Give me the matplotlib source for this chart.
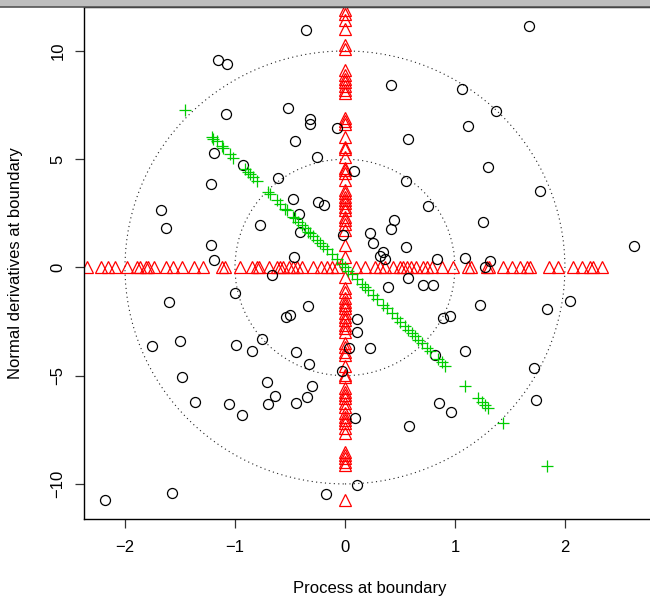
import matplotlib
matplotlib.use("Agg")
import numpy as np
import matplotlib.pyplot as plt
from matplotlib.patches import Ellipse, Rectangle
from matplotlib.lines import Line2D

plt.rcParams['font.family'] = ['Liberation Sans', 'DejaVu Sans']

# black circles: process / normal derivative pairs
circ_x = [-0.355, -1.155, -1.07, -0.515, -1.085, -0.315, -0.315, -0.075, -0.452, -1.188,
          -0.252, -0.93, 0.085, -0.606, -1.215, -0.47, -0.248, -0.194, -1.675, -0.421,
          -1.63, -0.77, -0.406, -0.021, -1.221, -1.194, -0.466, -0.661,
          1.673, 0.418, 1.066, 1.376, 1.118, 0.576, 1.297, 0.558, 1.773, 0.757,
          0.445, 0.418, 1.258, 0.224, 0.258, 0.555, 0.342, 0.318, 0.364, 0.839,
          1.091, 1.315, 1.276, 2.627, 0.576,
          -1.003, -1.603, -0.339, -0.536, -0.503, 0.109, 0.109, -1.752, -1.503, -0.991,
          -0.758, -0.848, -0.448, 0.033, -0.324, -1.479, -0.03, -0.712, -0.297, -0.634,
          -0.345, -1.361, -1.052, -0.70, -0.448, -0.934, 0.088, 0.112, -2.179, -1.57, -0.17,
          0.388, 0.706, 0.80, 1.23, 2.045, 1.833, 0.888, 0.951, 0.227, 1.088,
          0.821, 1.718, 0.855, 0.961, 1.733, 0.582]
circ_y = [10.98, 9.58, 9.41, 7.37, 7.07, 6.86, 6.61, 6.43, 5.82, 5.27,
          5.10, 4.73, 4.46, 4.12, 3.84, 3.17, 3.03, 2.89, 2.64, 2.49,
          1.83, 1.94, 1.63, 1.50, 1.04, 0.35, 0.49, -0.34,
          11.15, 8.41, 8.24, 7.24, 6.55, 5.92, 4.64, 3.98, 3.55, 2.84,
          2.21, 1.78, 2.12, 1.57, 1.12, 0.94, 0.72, 0.54, 0.38, 0.41,
          0.44, 0.29, 0.00, 1.00, -0.48,
          -1.20, -1.60, -1.80, -2.29, -2.20, -2.40, -2.97, -3.63, -3.39, -3.59,
          -3.31, -3.88, -3.92, -3.71, -4.46, -5.05, -4.77, -5.29, -5.46, -5.92,
          -6.00, -6.20, -6.31, -6.29, -6.26, -6.80, -6.97, -10.05, -10.74, -10.40, -10.48,
          -0.92, -0.80, -0.80, -1.74, -1.57, -1.94, -2.35, -2.23, -3.71, -3.86,
          -4.05, -4.63, -6.26, -6.66, -6.12, -7.31]

# red triangles along y = 0 (process values)
tri_h_x = [-2.348, -2.221, -2.157, -2.091, -1.985, -1.888, -1.864, -1.809, -1.788, -1.734,
           -1.627, -1.561, -1.482, -1.370, -1.294, -1.118, -1.09, -0.955, -0.848, -0.803,
           -0.779, -0.688, -0.621, -0.591, -0.566, -0.512, -0.470, -0.434, -0.388, -0.294,
           -0.218, -0.166, -0.121, -0.075,
           0.100, 0.182, 0.273, 0.318, 0.364, 0.436, 0.500, 0.527, 0.564, 0.600,
           0.645, 0.709, 0.745, 0.791, 0.882, 0.982, 1.118, 1.145, 1.291, 1.309,
           1.436, 1.518, 1.591, 1.655, 1.682, 1.855, 1.936, 2.073, 2.155, 2.227,
           2.255, 2.336]
tri_h_y = [0.0] * len(tri_h_x)

# red triangles along x = 0 (derivative values)
tri_v_y = [11.87, 11.72, 11.44, 11.03, 10.26, 10.11, 9.10, 8.87, 8.72, 8.56,
           8.37, 8.18, 8.06, 6.88, 6.77, 6.61, 6.03, 5.57, 5.45, 5.10,
           4.61, 4.49, 4.37, 4.03, 3.60, 3.44, 3.26, 3.11, 2.98, 2.80,
           2.64, 2.34, 2.18, 2.00, 1.75, 1.03, 0.49,
           -0.43, -0.97, -1.13, -1.43, -1.59, -1.74, -1.89, -2.12, -2.28, -2.43,
           -2.66, -2.81, -2.97, -3.51, -3.66, -3.89, -4.05, -4.55, -4.97, -5.05,
           -5.58, -5.74, -5.89, -6.05, -6.28, -6.43, -6.74, -6.89, -7.05, -7.20,
           -7.43, -7.66, -8.51, -8.66, -8.81, -8.97, -9.12, -10.74]
tri_v_x = [0.0] * len(tri_v_y)

# green crosses
green_x = [-1.455, -1.212, -1.197, -1.167, -1.121, -1.106, -1.045, -1.015, -0.909, -0.879,
           -0.864, -0.833, -0.803, -0.697, -0.682, -0.621, -0.591, -0.545, -0.530, -0.470,
           -0.455, -0.424, -0.394, -0.364, -0.333, -0.318, -0.288, -0.258, -0.227, -0.197,
           -0.167, -0.121, -0.076, -0.030, 0.0, 0.030, 0.061, 0.106, 0.152, 0.182,
           0.212, 0.258, 0.288, 0.348, 0.379, 0.424, 0.470, 0.500, 0.545, 0.576,
           0.606, 0.636, 0.667, 0.697, 0.742, 0.773, 0.848, 0.879, 0.909, 1.091,
           1.212, 1.242, 1.273, 1.303, 1.439, 1.833]
green_y = [7.26, 6.03, 5.95, 5.85, 5.60, 5.52, 5.22, 5.07, 4.54, 4.39,
           4.31, 4.16, 4.01, 3.48, 3.40, 3.10, 2.95, 2.72, 2.64, 2.34,
           2.27, 2.12, 1.96, 1.81, 1.66, 1.59, 1.44, 1.29, 1.13, 0.98,
           0.83, 0.60, 0.38, 0.15, 0.0, -0.15, -0.30, -0.53, -0.76, -0.91,
           -1.06, -1.29, -1.44, -1.74, -1.89, -2.12, -2.35, -2.50, -2.72, -2.88,
           -3.03, -3.18, -3.33, -3.48, -3.71, -3.86, -4.24, -4.39, -4.54, -5.48,
           -6.05, -6.20, -6.35, -6.51, -7.20, -9.17]

ring_scale = [1, 2]
x_ticks = [-2, -1, 0, 1, 2]
y_ticks = [-10, -5, 0, 5, 10]

W, H = 650, 598
fig = plt.figure(figsize=(W / 100, H / 100), dpi=100)

# grey strip along the top edge
fig.patches.append(Rectangle((0, 1 - 7 / H), 1, 7 / H, transform=fig.transFigure,
                             facecolor='#bebebe', edgecolor='none', zorder=0))
fig.lines.append(Line2D([0, 1], [1 - 7 / H, 1 - 7 / H], transform=fig.transFigure,
                        color='#555555', lw=1.2))

ax = fig.add_axes([84.3 / W, (H - 519) / H, (655 - 84.3) / W, (519 - 7) / H])
ax.set_xlim(-2.370, 2.819)
ax.set_ylim(-11.62, 12.03)

for r in ring_scale:
    ax.add_patch(Ellipse((0, 0), 2 * r, 10 * r, fill=False, edgecolor='#222222',
                         lw=0.8, linestyle=(0, (1, 3))))

ax.plot(tri_h_x, tri_h_y, linestyle='none', marker='^', ms=8.5, mfc='none',
        mec='#ff0000', mew=0.9)
ax.plot(tri_v_x, tri_v_y, linestyle='none', marker='^', ms=8.5, mfc='none',
        mec='#ff0000', mew=0.9)
ax.plot(circ_x, circ_y, linestyle='none', marker='o', ms=7.2, mfc='none',
        mec='black', mew=0.9)
ax.plot(green_x, green_y, linestyle='none', marker='+', ms=9, mec='#00cd00', mew=0.9)

ax.set_xticks(x_ticks)
ax.set_yticks(y_ticks)
ax.set_xticklabels([f"{v}".replace('-', '\u2212') for v in x_ticks])
ax.set_yticklabels([f"{v}".replace('-', '\u2212') for v in y_ticks],
                   rotation=90, va='center')
ax.tick_params(axis='both', direction='out', length=6.5, width=0.9, labelsize=12,
               color='#333333')
ax.tick_params(axis='x', pad=8.5)
ax.tick_params(axis='y', pad=7)
for side in ['left', 'bottom', 'top']:
    ax.spines[side].set_linewidth(1.0)
ax.spines['right'].set_visible(False)

fig.text(370 / W, 1 - 589 / H, "Process at boundary", ha='center', va='center',
         fontsize=12)
fig.text(16 / W, 1 - 263 / H, "Normal derivatives at boundary", ha='center',
         va='center', rotation=90, fontsize=12)

fig.savefig("out.png", dpi=100)
